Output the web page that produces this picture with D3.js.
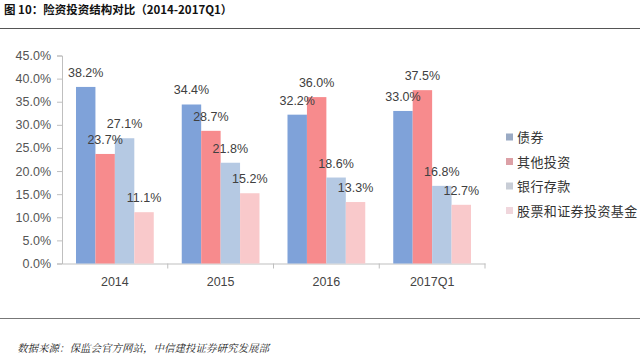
<!DOCTYPE html>
<html><head><meta charset="utf-8">
<script src="https://cdn.jsdelivr.net/npm/d3@7/dist/d3.min.js"></script>
<style>body{margin:0;background:#fff;}svg{display:block;}</style>
</head><body>
<script>
const categories = ["2014", "2015", "2016", "2017Q1"];
const seriesNames = ["债券", "其他投资", "银行存款", "股票和证券投资基金"];
const bonds = [38.2, 34.4, 32.2, 33.0];
const other = [23.7, 28.7, 36.0, 37.5];
const deposits = [27.1, 21.8, 18.6, 16.8];
const stocks = [11.1, 15.2, 13.3, 12.7];
const yTicks = [0, 5, 10, 15, 20, 25, 30, 35, 40, 45];
const colors = ["#7fa2d9", "#f78b8d", "#b5c9e3", "#f9c9cb"];
const legendColors = ["#9aaac4", "#dca0a6", "#c8cdd6", "#f0d6dc"];
const series = [bonds, other, deposits, stocks];

const W = 640, H = 358;
const svg = d3.select("body").append("svg").attr("width", W).attr("height", H);
const font = "'Noto Sans CJK SC', 'Noto Sans', sans-serif";

svg.append("text").attr("x", 4).attr("y", 14).attr("font-family", font)
  .attr("font-weight", "bold").attr("font-size", 11.5).attr("fill", "#111")
  .text("图 10：险资投资结构对比（2014-2017Q1）");
svg.append("line").attr("x1", 0).attr("x2", W).attr("y1", 28.5).attr("y2", 28.5)
  .attr("stroke", "#555").attr("stroke-width", 1.2);
svg.append("line").attr("x1", 0).attr("x2", W).attr("y1", 318.5).attr("y2", 318.5)
  .attr("stroke", "#777").attr("stroke-width", 1.2);
svg.append("text").attr("x", 17).attr("y", 352).attr("font-family", "'Noto Serif CJK SC', 'Noto Sans CJK SC', serif")
  .attr("font-style", "italic").attr("font-size", 10.5).attr("fill", "#222")
  .text("数据来源：保监会官方网站，中信建投证券研究发展部");

const pLeft = 62, pRight = 485, pTop = 55.5, pBottom = 263.5;
const x = d3.scaleBand().domain(categories).range([pLeft, pRight]).paddingInner(0).paddingOuter(0);
const y = d3.scaleLinear().domain([0, 45]).range([pBottom, pTop]);
const inner = d3.scaleBand().domain(d3.range(4)).range([0, x.bandwidth()]).paddingOuter(0.72).paddingInner(0);

const yAxis = svg.append("g").attr("transform", `translate(${pLeft},0)`)
  .call(d3.axisLeft(y).tickValues(yTicks).tickFormat(d => d.toFixed(1) + "%").tickSize(5).tickPadding(6));
yAxis.select(".domain").attr("stroke", "#bfbfbf");
yAxis.selectAll(".tick line").attr("stroke", "#bfbfbf");
yAxis.selectAll("text").attr("font-family", "'Liberation Sans', Arial, sans-serif").attr("font-size", 12.5).attr("fill", "#555");

const xAxis = svg.append("g").attr("transform", `translate(0,${pBottom})`)
  .call(d3.axisBottom(x).tickSize(0).tickPadding(14));
xAxis.select(".domain").attr("stroke", "#bfbfbf");
xAxis.selectAll("text").attr("font-family", "'Liberation Sans', Arial, sans-serif").attr("font-size", 12.5).attr("fill", "#444");
svg.append("g").selectAll("line").data(categories).join("line")
  .attr("x1", d => x(d) + x.bandwidth()).attr("x2", d => x(d) + x.bandwidth())
  .attr("y1", pBottom).attr("y2", pBottom + 5).attr("stroke", "#bfbfbf");

const data = [];
categories.forEach((c, i) => series.forEach((s, j) => data.push({c, j, v: s[i]})));

svg.append("g").selectAll("rect").data(data).join("rect")
  .attr("x", d => x(d.c) + inner(d.j)).attr("width", inner.bandwidth())
  .attr("y", d => y(d.v)).attr("height", d => pBottom - y(d.v))
  .attr("fill", d => colors[d.j]);

svg.append("g").selectAll("text").data(data).join("text")
  .attr("x", d => x(d.c) + inner(d.j) + inner.bandwidth() / 2)
  .attr("y", d => y(d.v) - 10)
  .attr("text-anchor", "middle").attr("font-family", "'Liberation Sans', Arial, sans-serif")
  .attr("font-size", 12.5).attr("fill", "#404040")
  .text(d => d.v.toFixed(1) + "%");

const lg = svg.append("g").attr("transform", "translate(506,0)");
seriesNames.forEach((n, i) => {
  const yy = 137 + i * 24.5;
  lg.append("rect").attr("x", 0).attr("y", yy - 3.5).attr("width", 7).attr("height", 7).attr("fill", legendColors[i]);
  lg.append("text").attr("x", 11).attr("y", yy + 5).attr("font-family", font).attr("font-size", 13)
    .attr("letter-spacing", 0.4).attr("fill", "#333").text(n);
});
</script>
</body></html>
